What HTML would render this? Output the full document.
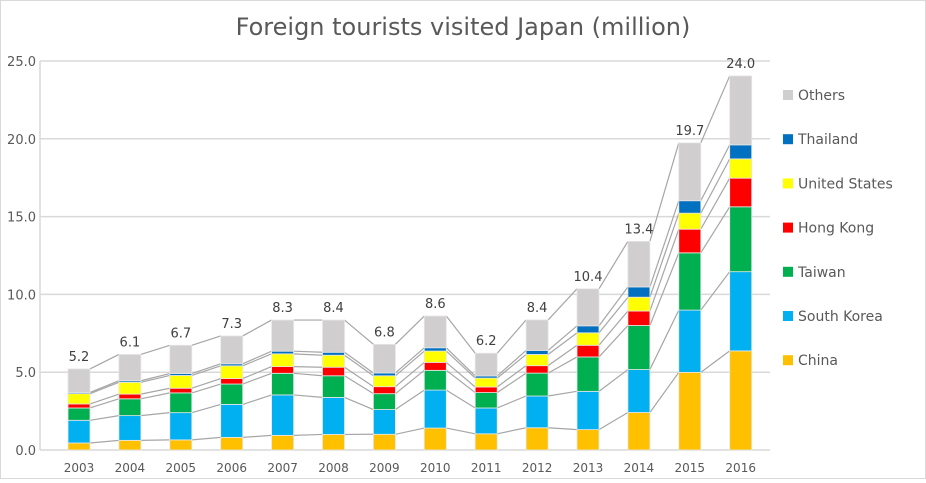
<!DOCTYPE html>
<html><head><meta charset="utf-8"><style>
body{margin:0;background:#fff;font-family:"DejaVu Sans","Liberation Sans",sans-serif;}
svg text{font-family:"DejaVu Sans","Liberation Sans",sans-serif;}
</style></head><body>
<svg id="chart" width="926" height="479" viewBox="0 0 926 479" xmlns="http://www.w3.org/2000/svg">
<rect x="0.5" y="0.5" width="925" height="478" fill="#fff" stroke="#d9d9d9"/>
<text x="463" y="35" text-anchor="middle" font-size="24" fill="#595959">Foreign tourists visited Japan (million)</text>
<g id="grid"></g><g id="links"></g><g id="bars"></g><g id="labels"></g><g id="legend"></g>
</svg>
<script>
const years=["2003","2004","2005","2006","2007","2008","2009","2010","2011","2012","2013","2014","2015","2016"];
const seriesNames=["China","South Korea","Taiwan","Hong Kong","United States","Thailand","Others"];
const china=[0.45,0.62,0.65,0.81,0.94,1.00,1.01,1.41,1.04,1.43,1.31,2.41,4.99,6.37];
const korea=[1.46,1.59,1.75,2.12,2.60,2.38,1.59,2.44,1.66,2.04,2.46,2.76,4.00,5.09];
const taiwan=[0.79,1.08,1.27,1.31,1.39,1.39,1.02,1.27,0.99,1.47,2.21,2.83,3.68,4.17];
const hongkong=[0.26,0.30,0.30,0.35,0.43,0.55,0.45,0.51,0.36,0.48,0.75,0.93,1.52,1.84];
const usa=[0.66,0.76,0.82,0.82,0.82,0.77,0.70,0.73,0.57,0.72,0.80,0.89,1.03,1.24];
const thailand=[0.08,0.10,0.12,0.13,0.17,0.19,0.18,0.21,0.14,0.26,0.45,0.66,0.80,0.90];
const others=[1.51,1.69,1.82,1.79,2.00,2.07,1.84,2.04,1.46,1.96,2.38,2.93,3.72,4.43];
const totalLabels=["5.2","6.1","6.7","7.3","8.3","8.4","6.8","8.6","6.2","8.4","10.4","13.4","19.7","24.0"];
const yTicks=[0,5,10,15,20,25];
const yTickLabels=["0.0","5.0","10.0","15.0","20.0","25.0"];
const series=[china,korea,taiwan,hongkong,usa,thailand,others];
const colors=["#ffc000","#00b0f0","#00b050","#ff0000","#ffff00","#0070c0","#d0cece"];
const NS="http://www.w3.org/2000/svg";
const x0=40,x1=770,y0=450,yTop=61,yMax=25;
const bw=22;
function y(v){return y0-(v/yMax)*(y0-yTop);}
function xc(i){return 79+i*50.9;}
function mk(tag,attrs,parent){const e=document.createElementNS(NS,tag);for(const k in attrs)e.setAttribute(k,attrs[k]);document.getElementById(parent).appendChild(e);return e;}
yTicks.forEach((t,i)=>{
  const l=mk("line",{x1:x0,x2:x1,y1:y(t),y2:y(t),stroke:"#d9d9d9","stroke-width":1.5},"grid");
  
  
  const tx=mk("text",{x:x0-4,y:y(t)+5,"text-anchor":"end","font-size":13,fill:"#595959"},"grid");
  tx.textContent=yTickLabels[i];
  
  
});
const ax=mk("line",{x1:x0,x2:x0,y1:yTop,y2:y0,stroke:"#d9d9d9","stroke-width":1.5},"grid");


const cum=years.map((_,i)=>{let s=0;return series.map(sr=>{s+=sr[i];return s;});});
for(let k=0;k<series.length;k++){
  for(let i=0;i<years.length-1;i++){
    const l=mk("line",{x1:xc(i)+bw/2,y1:y(cum[i][k]),x2:xc(i+1)-bw/2,y2:y(cum[i+1][k]),stroke:"#a6a6a6","stroke-width":1.2},"links");
    
    
  }
}
years.forEach((yr,i)=>{
  let base=0;
  series.forEach((sr,k)=>{
    const top=base+sr[i];
    const r=mk("rect",{x:xc(i)-bw/2,y:y(top),width:bw,height:y(base)-y(top),fill:colors[k],stroke:"#e6e6e6","stroke-width":0.8},"bars");
    
    
    base=top;
  });
  const t=mk("text",{x:xc(i),y:y(base)-8,"text-anchor":"middle","font-size":13,fill:"#404040"},"labels");
  t.textContent=totalLabels[i];
  
  
  const xl=mk("text",{x:xc(i),y:472,"text-anchor":"middle","font-size":12,fill:"#595959"},"labels");
  xl.textContent=yr;
  
  
});
for(let k=series.length-1,j=0;k>=0;k--,j++){
  const ly=95+j*44.2;
  const r=mk("rect",{x:783,y:ly-5,width:10,height:10,fill:colors[k]},"legend");
  
  
  const t=mk("text",{x:798,y:ly+5,"font-size":14,fill:"#595959"},"legend");
  t.textContent=seriesNames[k];
  
  
}
</script>
</body></html>
